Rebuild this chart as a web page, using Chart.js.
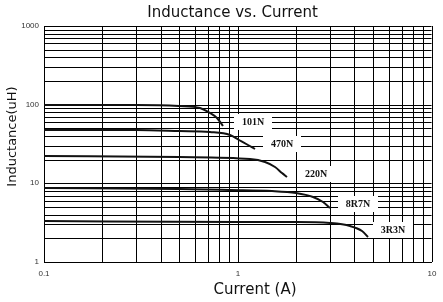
<!DOCTYPE html>
<html><head><meta charset="utf-8">
<script src="https://cdn.jsdelivr.net/npm/chart.js@4/dist/chart.umd.min.js"></script>
<style>html,body{margin:0;padding:0;background:#fff}#wrap{width:443px;height:302px;position:relative}</style>
</head><body><div id="wrap"><canvas id="c" width="443" height="302"></canvas></div>
<script>
// ---- data ----
const seriesNames = ['101N', '470N', '220N', '8R7N', '3R3N'];
const current101N = [0.1, 0.3, 0.5, 0.64, 0.72, 0.78, 0.84];
const induct101N  = [100, 99.5, 97, 90, 78, 67, 54];
const current470N = [0.1, 0.3, 0.5, 0.72, 0.91, 1.02, 1.13, 1.22];
const induct470N  = [48, 47, 46, 45, 41, 36, 31, 27];
const current220N = [0.1, 0.5, 1.15, 1.38, 1.55, 1.7, 1.79];
const induct220N  = [22.2, 21.8, 20.2, 18.8, 16, 13.4, 12.1];
const current8R7N = [0.1, 0.5, 0.91, 1.5, 2.0, 2.44, 2.74, 2.98];
const induct8R7N  = [8.7, 8.4, 8.2, 7.9, 7.6, 6.8, 5.8, 4.8];
const current3R3N = [0.1, 1, 2, 3, 3.78, 4.36, 4.68];
const induct3R3N  = [3.3, 3.25, 3.2, 3.1, 2.9, 2.5, 2.1];
const xTickLabels = ['0.1', '1', '10'];
const yTickLabels = ['1', '10', '100', '1000'];
const chartTitle = 'Inductance vs. Current';
const xTitle = 'Current (A)';
const yTitle = 'Inductance(uH)';

const currents = [current101N, current470N, current220N, current8R7N, current3R3N];
const inducts = [induct101N, induct470N, induct220N, induct8R7N, induct3R3N];

function logGrid(min, max) {
  const out = [];
  for (let d = min; d < max * 0.999; d *= 10) {
    for (let m = 1; m <= 9; m++) out.push(+(d * m).toPrecision(6));
  }
  out.push(max);
  return out;
}
function labelFor(labels) {
  return (v) => {
    const l = labels.find(s => Math.abs(parseFloat(s) - v) < 1e-9 * Math.max(1, v));
    return l === undefined ? '' : l;
  };
}

const labelOffsets = [[30, -4], [27, -5], [29, -3], [28, -4], [25, -7]];

const textPlugin = {
  id: 'texts',
  afterDraw(chart) {
    const ctx = chart.ctx;
    ctx.save();
    ctx.fillStyle = '#111';
    ctx.textAlign = 'center';
    ctx.textBaseline = 'alphabetic';
    ctx.font = "15px 'DejaVu Sans'";
    ctx.fillText(chartTitle, 232.5, 17);
    ctx.fillText(xTitle, 255, 294);
    ctx.save();
    ctx.translate(16, 136.5);
    ctx.rotate(-Math.PI / 2);
    ctx.font = "13px 'DejaVu Sans'";
    ctx.fillText(yTitle, 0, 0);
    ctx.restore();
    // series labels
    ctx.font = "bold 10px 'Liberation Serif'";
    ctx.textBaseline = 'middle';
    chart.data.datasets.forEach((ds, i) => {
      const meta = chart.getDatasetMeta(i);
      const last = meta.data[meta.data.length - 1];
      const cx = last.x + labelOffsets[i][0];
      const cy = last.y + labelOffsets[i][1];
      const w = ctx.measureText(ds.label).width + 16;
      ctx.fillStyle = '#fff';
      ctx.fillRect(Math.round(cx - w / 2), Math.round(cy - 8), Math.round(w), 16);
      ctx.fillStyle = '#111';
      ctx.fillText(ds.label, cx, cy + 0.5);
    });
    ctx.restore();
  }
};

new Chart(document.getElementById('c'), {
  type: 'scatter',
  data: {
    datasets: seriesNames.map((name, i) => ({
      label: name,
      data: currents[i].map((x, j) => ({ x: x, y: inducts[i][j] })),
      showLine: true,
      borderColor: '#111',
      borderWidth: 2,
      pointRadius: 0,
      cubicInterpolationMode: 'monotone',
      fill: false
    }))
  },
  options: {
    responsive: false,
    animation: false,
    devicePixelRatio: 1,
    layout: { padding: { top: 26, right: 11, left: 0, bottom: 0 } },
    plugins: { legend: { display: false }, title: { display: false }, tooltip: { enabled: false } },
    scales: {
      x: {
        type: 'logarithmic', min: 0.1, max: 10,
        alignToPixels: true,
        afterFit(s) { s.height = 40; },
        afterBuildTicks(s) { s.ticks = logGrid(0.1, 10).map(v => ({ value: v })); },
        grid: { color: '#000', lineWidth: 1, drawTicks: false },
        border: { display: true, color: '#000', width: 1 },
        ticks: { callback: labelFor(xTickLabels), autoSkip: false, maxRotation: 0, padding: 7,
                 color: '#333', font: { family: "'Liberation Sans'", size: 8 } }
      },
      y: {
        type: 'logarithmic', min: 1, max: 1000,
        alignToPixels: true,
        afterFit(s) { s.width = 44; },
        afterBuildTicks(s) { s.ticks = logGrid(1, 1000).map(v => ({ value: v })); },
        grid: { color: '#000', lineWidth: 1, drawTicks: false },
        border: { display: true, color: '#000', width: 1 },
        ticks: { callback: labelFor(yTickLabels), autoSkip: false, padding: 5,
                 color: '#333', font: { family: "'Liberation Sans'", size: 8 } }
      }
    }
  },
  plugins: [textPlugin]
});
</script>
</body></html>
